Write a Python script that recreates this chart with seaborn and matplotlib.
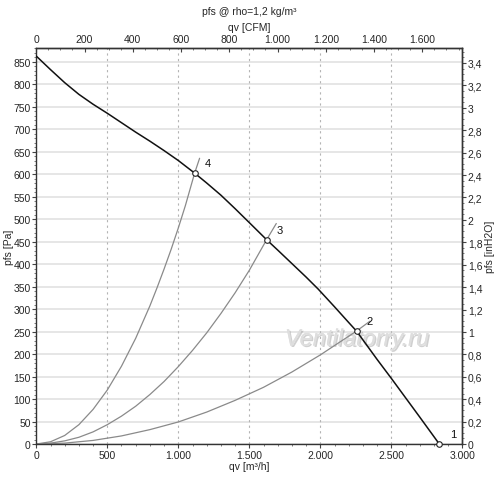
import numpy as np
import pandas as pd
import matplotlib
matplotlib.use("Agg")
import matplotlib.pyplot as plt
import matplotlib.patheffects as pe
from matplotlib.ticker import FixedLocator, AutoMinorLocator, FuncFormatter
import seaborn as sns

# fan curve (qv in m3/h, pfs in Pa)
fan_qv = [0, 100, 200, 300, 400, 500, 600, 700, 800, 900, 1000, 1115, 1200, 1300,
          1400, 1500, 1622, 1700, 1800, 1900, 1986, 2100, 2200, 2255, 2400, 2500, 2600,
          2700, 2838]
fan_p = [862, 832, 803, 777, 755, 735, 714, 693, 673, 652, 630, 602, 580, 553,
         523, 492, 454, 431, 401, 371, 344, 305, 270, 251, 188, 146, 103, 60, 0]

# system curves 2, 3, 4
sys2_qv = [0, 200, 400, 600, 800, 1000, 1200, 1400, 1600, 1800, 2000, 2255, 2350]
sys2_p = [0, 2, 8, 18, 32, 49, 71, 97, 126, 160, 198, 251, 273]
sys3_qv = [0, 100, 200, 300, 400, 500, 600, 700, 800, 900, 1000, 1100, 1200, 1300,
           1400, 1500, 1622, 1690]
sys3_p = [0, 2, 7, 15, 27, 43, 62, 84, 110, 139, 172, 208, 247, 290, 336, 386, 454, 490]
sys4_qv = [0, 100, 200, 300, 400, 500, 600, 700, 800, 850, 900, 950, 1000, 1050,
           1115, 1150]
sys4_p = [0, 5, 19, 43, 77, 120, 173, 235, 307, 347, 389, 433, 480, 530, 602, 635]

# operating points
op_labels = ["1", "2", "3", "4"]
op_qv = [2838, 2255, 1622, 1115]
op_p = [0, 251, 454, 602]

# tick values
qv_ticks = [0, 500, 1000, 1500, 2000, 2500, 3000]
cfm_ticks = [0, 200, 400, 600, 800, 1000, 1200, 1400, 1600]
pa_ticks = list(range(0, 851, 50))
inh2o_ticks = [0, 0.2, 0.4, 0.6, 0.8, 1, 1.2, 1.4, 1.6, 1.8, 2, 2.2, 2.4, 2.6, 2.8,
               3, 3.2, 3.4]

PA_PER_INH2O = 249.089
M3H_PER_CFM = 1.69901
FS = 7.5

sns.set_style("ticks")
plt.rcParams['font.family'] = ['Liberation Sans', 'DejaVu Sans']

fig = plt.figure(figsize=(5.0, 4.81), dpi=100)
ax = fig.add_axes([0.0726, 0.0748, 0.852, 0.8233])

for k in pa_ticks:
    ax.axhline(k, color="#e4e4e4", lw=1.3, zorder=0)
for k in qv_ticks[1:-1]:
    ax.axvline(k, color="#b4b4b4", lw=0.8, ls=(0, (2, 3)), zorder=0)

for q, p in [(sys2_qv, sys2_p), (sys3_qv, sys3_p), (sys4_qv, sys4_p)]:
    sns.lineplot(x=q, y=p, ax=ax, color="#8a8a8a", lw=0.9, sort=False,
                 estimator=None, zorder=2)

sns.lineplot(x=fan_qv, y=fan_p, ax=ax, color="#111111", lw=1.1, sort=False,
             estimator=None, zorder=3)

ax.scatter(op_qv, op_p, s=16, facecolor="white", edgecolor="#222222",
           linewidth=0.8, zorder=4, clip_on=False)
for lab, q, p in zip(op_labels, op_qv, op_p):
    ax.annotate(lab, (q, p), xytext=(7.5, 5), textcoords="offset points",
                fontsize=FS + 0.5, color="#111111")

ax.text(0.753, 0.265, "Ventilatorry.ru", transform=ax.transAxes, ha="center",
        va="center", fontsize=17, style="italic", color="#dedede", zorder=1,
        path_effects=[pe.withSimplePatchShadow(offset=(1, -1), shadow_rgbFace="#8a8a8a", alpha=0.4),
                      pe.Normal()])

ax.set_xlim(0, 3000)
ax.set_ylim(0, 880)

thousand = FuncFormatter(lambda v, pos: f"{v:,.0f}".replace(",", "."))

def comma_fmt(v, pos):
    s = f"{v:.1f}"
    if s.endswith(".0"):
        s = s[:-2]
    return s.replace(".", ",")

ax.xaxis.set_major_locator(FixedLocator(qv_ticks))
ax.xaxis.set_minor_locator(AutoMinorLocator(5))
ax.xaxis.set_major_formatter(thousand)
ax.yaxis.set_major_locator(FixedLocator(pa_ticks))
ax.yaxis.set_minor_locator(AutoMinorLocator(5))

ax.set_xlabel("qv [m³/h]", fontsize=FS, labelpad=1)
ax.set_ylabel("pfs [Pa]", fontsize=FS)
ax.yaxis.set_label_coords(-0.053, 0.5)

top = ax.secondary_xaxis("top", functions=(lambda x: x / M3H_PER_CFM, lambda x: x * M3H_PER_CFM))
top.xaxis.set_major_locator(FixedLocator(cfm_ticks))
top.xaxis.set_minor_locator(AutoMinorLocator(4))
top.xaxis.set_major_formatter(thousand)
top.set_xlabel("qv [CFM]", fontsize=FS, labelpad=3)
top.tick_params(axis="x", which="major", direction="in", length=3, labelsize=FS, pad=3, color="#444444")
top.tick_params(axis="x", which="minor", direction="in", length=1.5, color="#666666")

right = ax.secondary_yaxis("right", functions=(lambda y: y / PA_PER_INH2O, lambda y: y * PA_PER_INH2O))
right.yaxis.set_major_locator(FixedLocator(inh2o_ticks))
right.yaxis.set_minor_locator(AutoMinorLocator(4))
right.yaxis.set_major_formatter(FuncFormatter(comma_fmt))
right.set_ylabel("pfs [inH2O]", fontsize=FS, labelpad=1.5)
right.tick_params(axis="y", which="major", length=3, labelsize=FS, pad=1, color="#444444")
right.tick_params(axis="y", which="minor", length=1.5, color="#666666")

ax.tick_params(axis="both", which="major", length=3, labelsize=FS, pad=1, color="#444444")
ax.tick_params(axis="both", which="minor", length=1.5, color="#666666")

for s in ax.spines.values():
    s.set_visible(True)
    s.set_color("#333333")
    s.set_linewidth(1.0)
for sec in (top, right):
    for s in sec.spines.values():
        s.set_color("#333333")
        s.set_linewidth(1.0)

fig.text(0.498, 0.975, "pfs @ rho=1,2 kg/m³", ha="center", va="center", fontsize=FS)

fig.savefig("out.png", dpi=100)
